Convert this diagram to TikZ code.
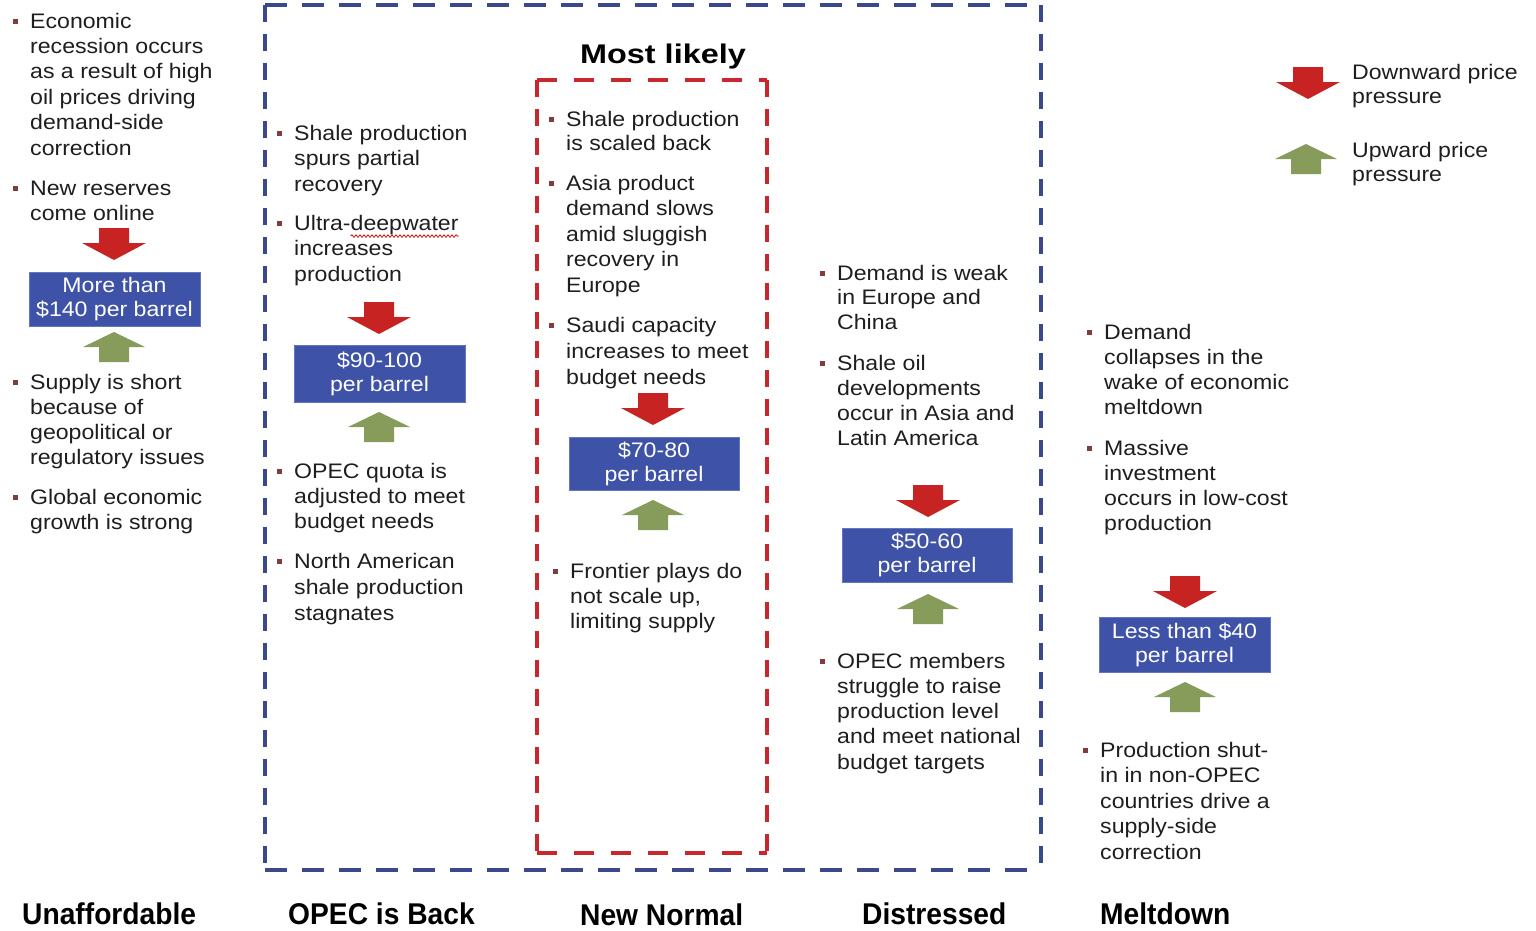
\documentclass[tikz,border=0pt]{standalone}
\usepackage{fontspec}
\setmainfont{Liberation Sans}[FakeStretch=1.1]
\newfontfamily\titlefont{Liberation Sans}[FakeStretch=1.2]
\newfontfamily\labfont{Liberation Sans}[FakeStretch=0.94]
\usetikzlibrary{decorations.pathmorphing}
\definecolor{txtc}{RGB}{30,30,30}
\definecolor{bulc}{RGB}{130,60,60}
\definecolor{redc}{RGB}{200,35,35}
\definecolor{greenc}{RGB}{135,155,90}
\definecolor{boxc}{RGB}{62,82,168}
\definecolor{boxe}{RGB}{100,118,190}
\definecolor{blued}{RGB}{60,72,140}
\definecolor{redd}{RGB}{200,40,45}
\newcommand\bodyfs{\fontsize{21}{24}\selectfont}
\newcommand\para[5]{%
  \node[bul] (#1-b) at ({#2-15},{#3-7}) {};
  \foreach \t [count=\i from 0] in {#5} \node[txt] (#1-\i) at (#2,{#3+#4*\i}) {\t};}
\tikzset{
  txt/.style={anchor=base west, inner sep=0pt, font=\bodyfs, text=txtc},
  bul/.style={rectangle, fill=bulc, minimum size=5pt, inner sep=0pt},
  pricebox/.style={rectangle, fill=boxc, draw=boxe, line width=1pt, text=white,
    font=\bodyfs, align=center, inner sep=0pt},
  collabel/.style={anchor=base west, inner sep=0pt, font=\labfont\bfseries\fontsize{30}{30}\selectfont, text=black},
  hdash/.style={line width=3.6pt, dash pattern=on 22pt off 15pt},
  vdash/.style={line width=3.6pt, dash pattern=on 17pt off 12pt},
  downarr/.pic={\fill[redc] (-15,0) -- (15,0) -- (15,15) -- (32,15) -- (0,32) -- (-32,15) -- (-15,15) -- cycle;},
  uparr/.pic={\fill[greenc] (0,0) -- (31,15) -- (15,15) -- (15,30) -- (-15,30) -- (-15,15) -- (-31,15) -- cycle;},
}
\begin{document}
\begin{tikzpicture}[x=1pt,y=-1pt]
\useasboundingbox[fill=white] (0,0) rectangle (1536,930);

% outer blue dashed frame
\coordinate (bA) at (265,5);
\coordinate (bB) at (1041,5);
\coordinate (bC) at (1041,870);
\coordinate (bD) at (265,870);
\draw[blued, hdash] (bA) -- (bB);
\draw[blued, hdash] (bD) -- (bC);
\draw[blued, vdash] (bA) -- (bD);
\draw[blued, vdash] (bB) -- (bC);

% inner red dashed frame
\coordinate (rA) at (537,80);
\coordinate (rB) at (767,80);
\coordinate (rC) at (767,853);
\coordinate (rD) at (537,853);
\draw[redd, hdash, dash pattern=on 20pt off 17pt] (rA) -- (rB);
\draw[redd, hdash, dash pattern=on 20pt off 17pt] (rD) -- (rC);
\draw[redd, vdash] (rA) -- (rD);
\draw[redd, vdash] (rB) -- (rC);

\node[anchor=base, inner sep=0pt, font=\titlefont\bfseries\fontsize{27}{27}\selectfont] (title) at (663,63) {Most likely};

% column 1 : Unaffordable
\para{u1}{30}{28}{25.4}{Economic, recession occurs, as a result of high, oil prices driving, demand-side, correction}
\para{u2}{30}{195}{25.4}{New reserves, come online}
\pic at (114,228) {downarr};
\node[pricebox, minimum width=171pt, minimum height=54pt] (p1) at (114.5,299) {More than\\\$140 per barrel};
\pic at (114,332) {uparr};
\para{u3}{30}{389}{25}{Supply is short, because of, geopolitical or, regulatory issues}
\para{u4}{30}{504}{25.5}{Global economic, growth is strong}

% column 2 : OPEC is Back
\para{o1}{294}{140}{25.5}{Shale production, spurs partial, recovery}
\para{o2}{294}{230}{25.5}{Ultra-deepwater, increases, production}
\draw[redc, line width=0.9pt, decorate, decoration={snake, amplitude=1.2pt, segment length=4pt}] (o2-0.south east) ++(-108,1.5) coordinate (sq) -- ++(108,0);
\pic at (379,302) {downarr};
\node[pricebox, minimum width=171pt, minimum height=57pt] (p2) at (379.5,373.5) {\$90-100\\per barrel};
\pic at (379,412) {uparr};
\para{o3}{294}{478}{25}{OPEC quota is, adjusted to meet, budget needs}
\para{o4}{294}{568}{26}{North American, shale production, stagnates}

% column 3 : New Normal
\para{n1}{566}{126}{24.5}{Shale production, is scaled back}
\para{n2}{566}{190}{25.5}{Asia product, demand slows, amid sluggish, recovery in, Europe}
\para{n3}{566}{332}{26}{Saudi capacity, increases to meet, budget needs}
\pic at (653,393) {downarr};
\node[pricebox, minimum width=170pt, minimum height=53pt] (p3) at (654,463.5) {\$70-80\\per barrel};
\pic at (653,500) {uparr};
\para{n4}{570}{578}{25}{Frontier plays do, {not scale up,}, limiting supply}

% column 4 : Distressed
\para{d1}{837}{280}{24.5}{Demand is weak, in Europe and, China}
\para{d2}{837}{370}{25.3}{Shale oil, developments, occur in Asia and, Latin America}
\pic at (928,485) {downarr};
\node[pricebox, minimum width=170pt, minimum height=54pt] (p4) at (927,555) {\$50-60\\per barrel};
\pic at (928,594) {uparr};
\para{d3}{837}{668}{25.3}{OPEC members, struggle to raise, production level, and meet national, budget targets}

% column 5 : Meltdown
\para{m1}{1104}{339}{25}{Demand, collapses in the, wake of economic, meltdown}
\para{m2}{1104}{455}{25}{Massive, investment, occurs in low-cost, production}
\pic at (1185,576) {downarr};
\node[pricebox, minimum width=171pt, minimum height=55pt] (p5) at (1184.5,644.5) {Less than \$40\\per barrel};
\pic at (1185,682) {uparr};
\para{m3}{1100}{757}{25.5}{Production shut-, in in non-OPEC, countries drive a, supply-side, correction}

% legend
\pic at (1308,67) {downarr};
\node[txt] (lg1) at (1352,79) {Downward price};
\node[txt] (lg2) at (1352,103) {pressure};
\pic at (1306,144) {uparr};
\node[txt] (lg3) at (1352,157) {Upward price};
\node[txt] (lg4) at (1352,181) {pressure};

% scenario labels
\node[collabel] (L1) at (22,924) {Unaffordable};
\node[collabel] (L2) at (288,924) {OPEC is Back};
\node[collabel] (L3) at (580,925) {New Normal};
\node[collabel] (L4) at (862,924) {Distressed};
\node[collabel] (L5) at (1100,924) {Meltdown};
\end{tikzpicture}
\end{document}
